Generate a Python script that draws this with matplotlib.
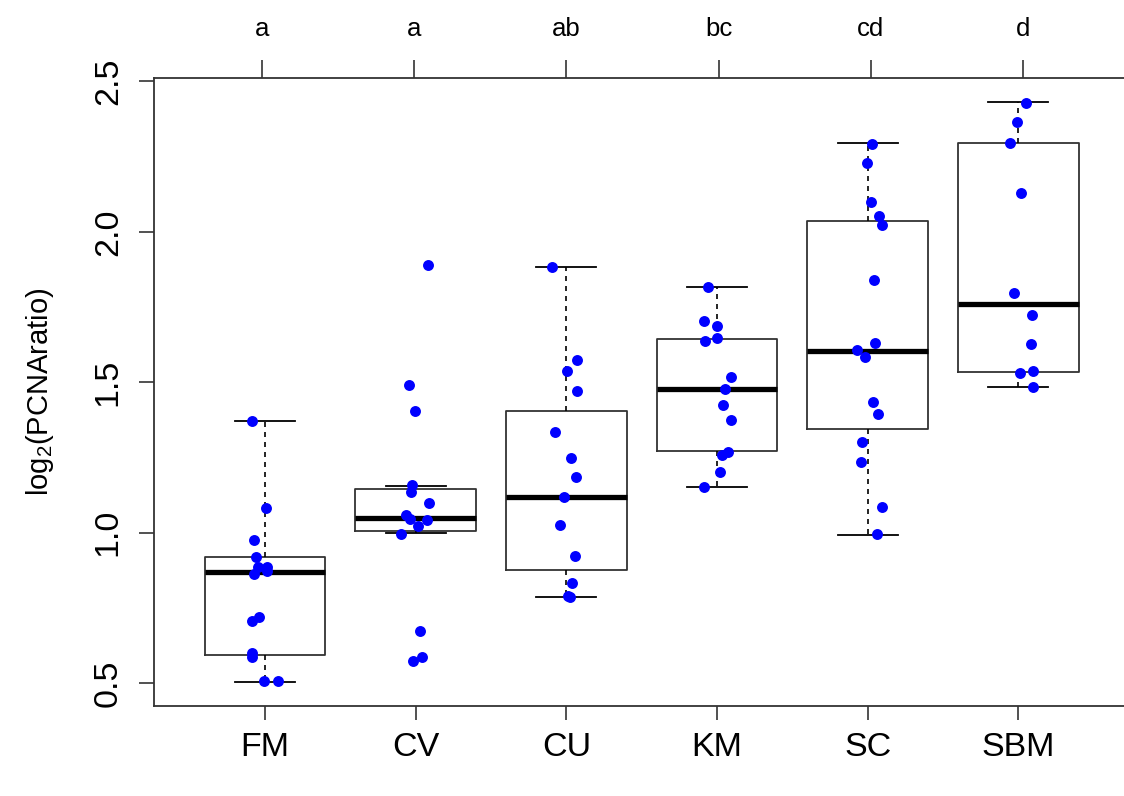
import matplotlib.pyplot as plt

plt.rcParams['font.family'] = ['Liberation Sans', 'DejaVu Sans']
plt.rcParams['mathtext.default'] = 'regular'

groups = ['FM', 'CV', 'CU', 'KM', 'SC', 'SBM']
letters = ['a', 'a', 'ab', 'bc', 'cd', 'd']

# box stats
q1 = [0.595, 1.006, 0.875, 1.273, 1.345, 1.535]
med = [0.870, 1.050, 1.119, 1.479, 1.604, 1.761]
q3 = [0.920, 1.147, 1.404, 1.643, 2.036, 2.295]
whislo = [0.504, 0.998, 0.785, 1.151, 0.993, 1.486]
whishi = [1.372, 1.155, 1.884, 1.816, 2.295, 2.430]

# individual points (y) and their jitter offsets (x)
fm_y = [1.371, 1.082, 0.977, 0.919, 0.886, 0.886, 0.872, 0.864, 0.720, 0.706, 0.599, 0.588, 0.506, 0.506]
fm_dx = [-0.088, 0.007, -0.074, -0.059, -0.044, 0.015, 0.015, -0.074, -0.042, -0.088, -0.088, -0.084, -0.005, 0.088]
cv_y = [1.890, 1.492, 1.406, 1.159, 1.135, 1.098, 1.060, 1.046, 1.041, 1.022, 0.996, 0.674, 0.588, 0.574]
cv_dx = [0.081, -0.044, -0.005, -0.026, -0.033, 0.088, -0.062, -0.040, 0.073, 0.013, -0.099, 0.030, 0.040, -0.016]
cu_y = [1.882, 1.574, 1.537, 1.470, 1.334, 1.247, 1.184, 1.119, 1.026, 0.924, 0.832, 0.789, 0.786]
cu_dx = [-0.097, 0.073, 0.002, 0.070, -0.075, 0.033, 0.061, -0.013, -0.044, 0.057, 0.035, 0.011, 0.026]
km_y = [1.818, 1.705, 1.686, 1.637, 1.646, 1.516, 1.479, 1.425, 1.374, 1.270, 1.258, 1.203, 1.153]
km_dx = [-0.059, -0.088, 0.000, -0.077, 0.000, 0.092, 0.053, 0.042, 0.094, 0.074, 0.035, 0.020, -0.084]
sc_y = [2.292, 2.230, 2.098, 2.053, 2.021, 1.841, 1.632, 1.606, 1.584, 1.434, 1.393, 1.302, 1.235, 1.086, 0.996]
sc_dx = [0.029, -0.002, 0.024, 0.073, 0.092, 0.040, 0.051, -0.073, -0.017, 0.036, 0.066, -0.040, -0.042, 0.092, 0.062]
sbm_y = [2.429, 2.364, 2.294, 2.129, 1.796, 1.723, 1.628, 1.532, 1.538, 1.484]
sbm_dx = [0.053, -0.011, -0.055, 0.020, -0.028, 0.088, 0.082, 0.013, 0.095, 0.095]

pts_y = [fm_y, cv_y, cu_y, km_y, sc_y, sbm_y]
pts_dx = [fm_dx, cv_dx, cu_dx, km_dx, sc_dx, sbm_dx]

fig = plt.figure(figsize=(11.24, 7.96), dpi=100)
ax = fig.add_axes([0.1373, 0.1131, 0.8672, 0.7893])

pos = list(range(1, len(groups) + 1))
stats = []
for i in range(len(groups)):
    stats.append({'med': med[i], 'q1': q1[i], 'q3': q3[i],
                  'whislo': whislo[i], 'whishi': whishi[i], 'fliers': []})

ax.bxp(stats, positions=pos, widths=0.8, capwidths=0.4, showfliers=False,
       boxprops=dict(color='#333333', linewidth=1.3),
       medianprops=dict(color='black', linewidth=3.8, solid_capstyle='butt'),
       whiskerprops=dict(color='black', linewidth=1.2, linestyle=(0, (3, 3))),
       capprops=dict(color='black', linewidth=1.3))

for i in range(len(groups)):
    xs = [pos[i] + d for d in pts_dx[i]]
    ax.scatter(xs, pts_y[i], s=62, color='#0000ff', zorder=5, linewidths=0)

ax.set_xlim(0.265, 6.735)
ax.set_ylim(0.4246, 2.512)
ax.set_xticks(pos)
ax.set_xticklabels(groups, fontsize=24.5)
ax.set_yticks([0.5, 1.0, 1.5, 2.0, 2.5])
ax.set_yticklabels(['0.5', '1.0', '1.5', '2.0', '2.5'], fontsize=24.5,
                   rotation=90, va='center')
ax.tick_params(axis='x', length=10, width=1.2, color='#333333', pad=8.4)
ax.tick_params(axis='y', length=10.5, width=1.2, color='#333333', pad=11.5)

for s in ['left', 'bottom', 'top']:
    ax.spines[s].set_color('#333333')
    ax.spines[s].set_linewidth(1.3)
ax.spines['right'].set_visible(False)

# letters on top, slightly spread like in the original
top = ax.secondary_xaxis('top')
top.set_xticks([3 + (p - 3) * 1.0109 for p in pos])
top.set_xticklabels(letters, fontsize=18.5)
top.tick_params(length=12.7, width=1.2, color='#333333', pad=13.4)
top.spines['top'].set_visible(False)

fig.text(40 / 1124, 1 - 392 / 796, r'log$_{2}$(PCNAratio)', rotation=90,
         ha='center', va='center', fontsize=21)

fig.savefig('out.png', dpi=100)
